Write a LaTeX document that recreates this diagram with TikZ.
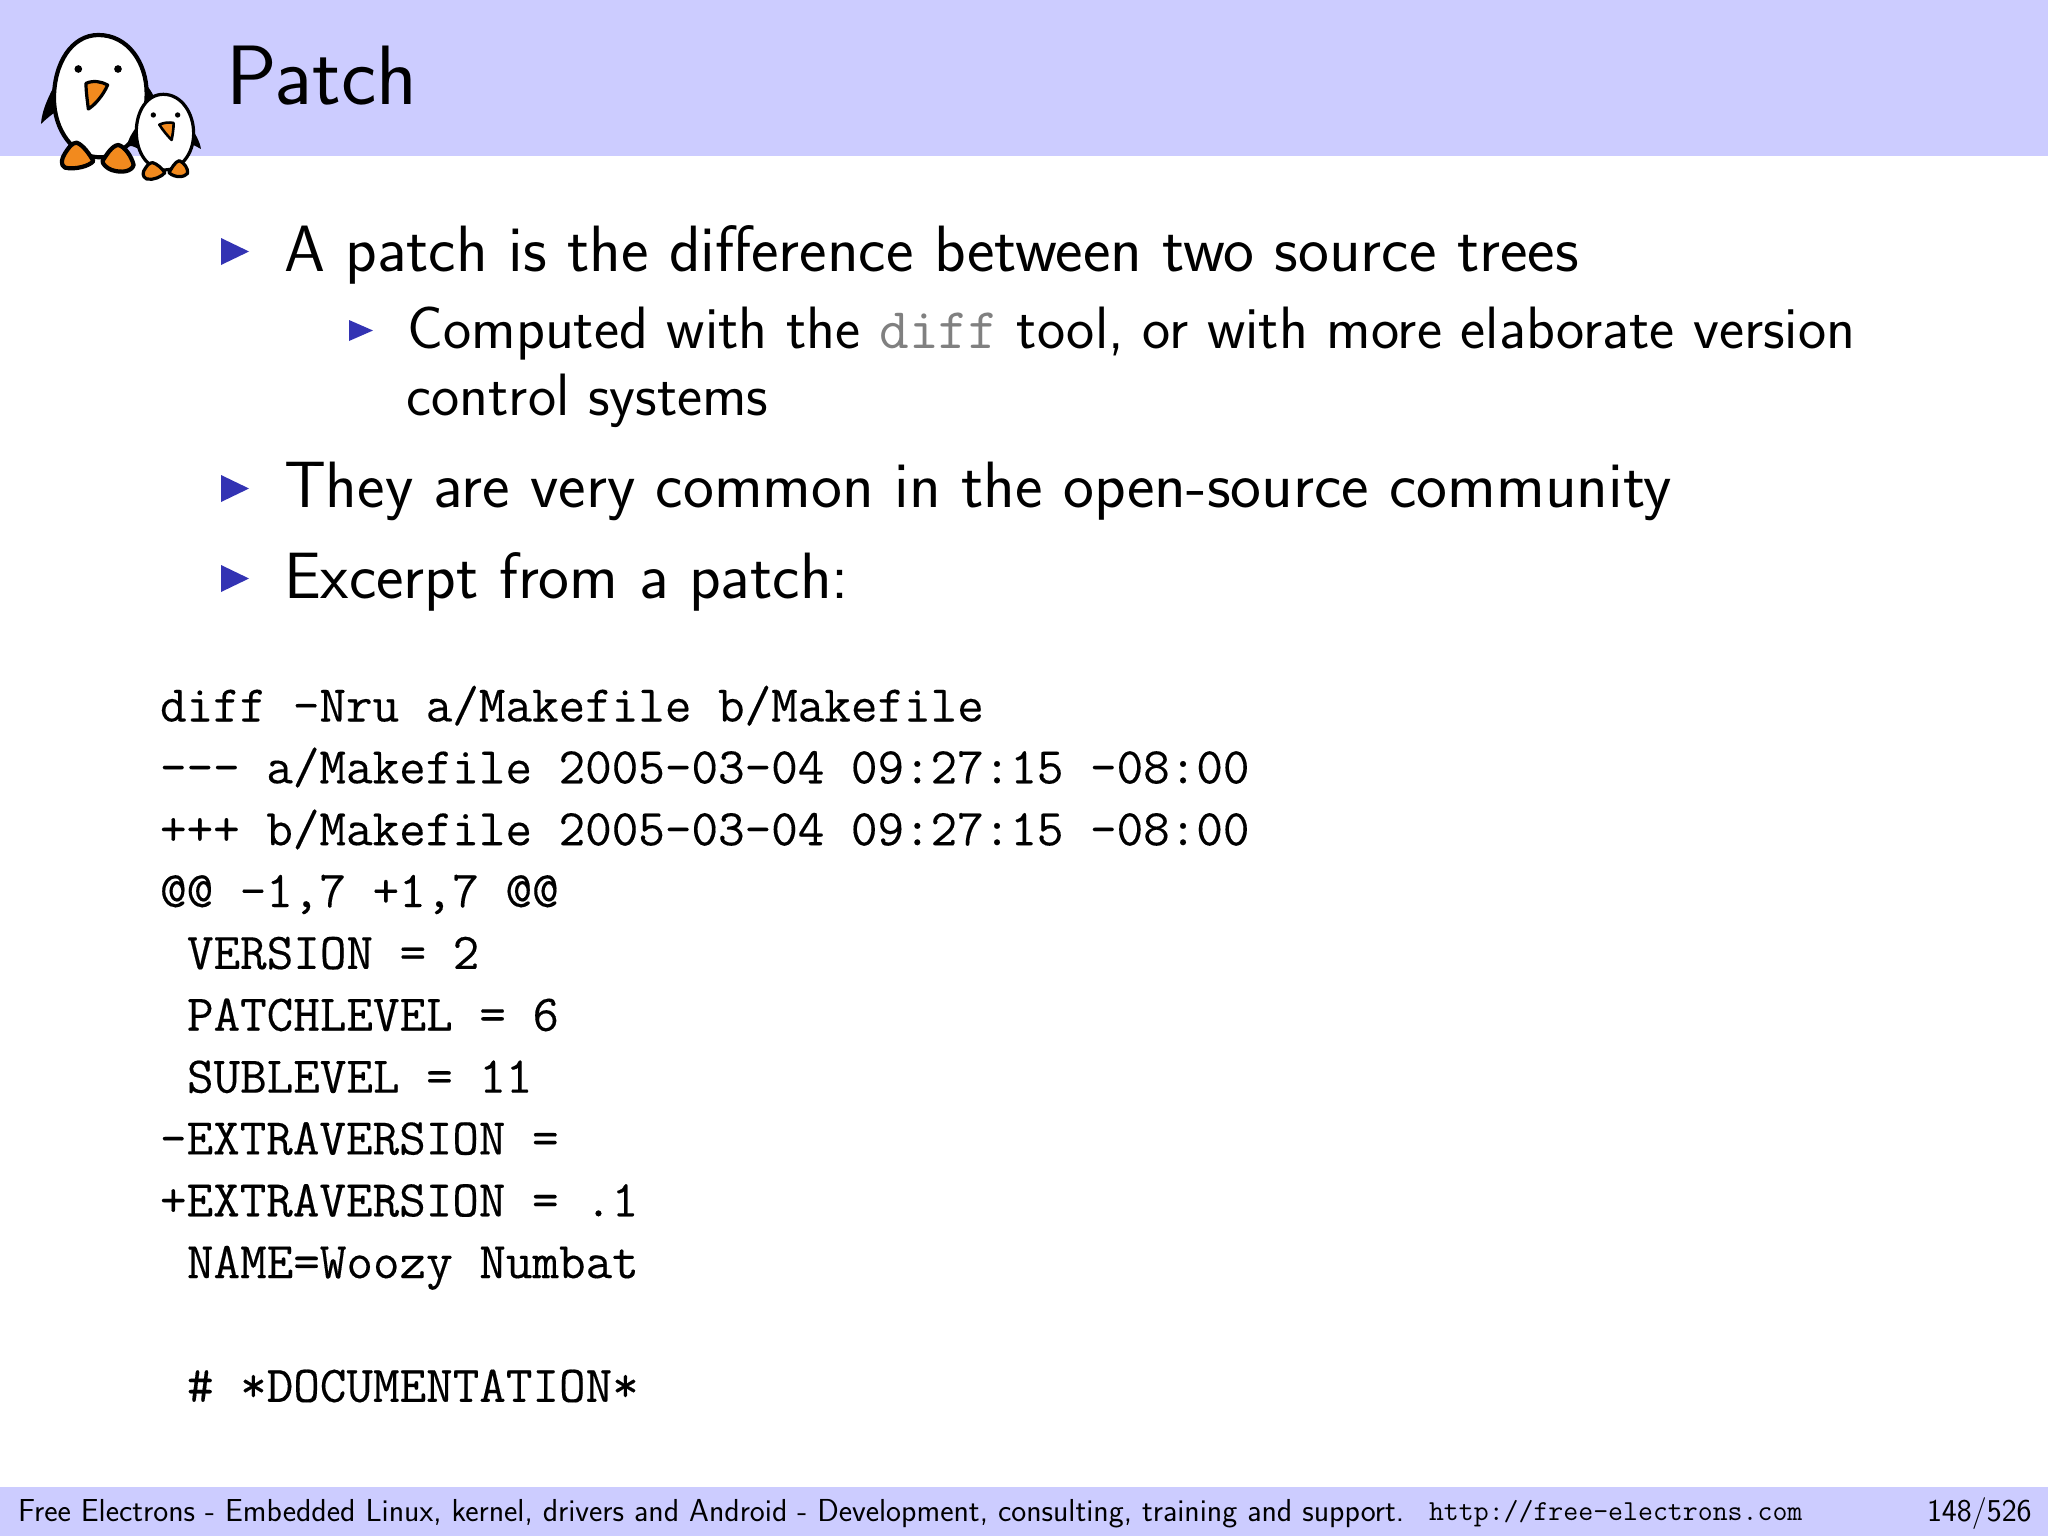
\documentclass[tikz,border=0pt]{standalone}
\usepackage{fontspec}
\newfontfamily\codefont{Latin Modern Mono}[FakeBold=0.25]
\definecolor{band}{HTML}{CCCCFF}
\definecolor{bullet}{HTML}{3333B3}
\definecolor{beak}{HTML}{F28A1E}
\definecolor{difft}{HTML}{808080}
\newcommand{\fsz}[1]{\fontsize{#1}{#1}\selectfont}
\tikzset{
  body/.style={anchor=base west,inner sep=0pt,outer sep=0pt,font=\sffamily\fsz{65.5}},
  sub/.style={anchor=base west,inner sep=0pt,outer sep=0pt,font=\sffamily\fsz{59.8}},
  code/.style={anchor=base west,inner sep=0pt,outer sep=0pt,font=\codefont\fsz{51.6}},
  foot/.style={anchor=base west,inner sep=0pt,outer sep=0pt,font=\sffamily\fsz{31.8}},
  ink/.style={draw=black,line width=4.2pt,line join=round},
  inks/.style={draw=black,line width=3.2pt,line join=round},
}
\begin{document}
\begin{tikzpicture}[x=1pt,y=-1pt]
\useasboundingbox (0,0) rectangle (2048,1536);
\fill[white] (0,0) rectangle (2048,1536);
\fill[band] (0,0) rectangle (2048,156);
\fill[band] (0,1487) rectangle (2048,1536);
% penguins
\begin{scope}[x=0.3333pt,y=-0.3333pt]
  \fill[black] (170,245) .. controls (150,280) and (125,330) .. (123,372) .. controls (140,355) and (160,340) .. (175,330) -- cycle;
  \fill[black] (430,245) .. controls (445,260) and (455,275) .. (462,290) -- (430,320) -- cycle;
  \filldraw[fill=white,ink] (295,105) .. controls (385,105) and (440,190) .. (440,280)
     .. controls (440,400) and (370,472) .. (300,472)
     .. controls (220,472) and (162,390) .. (162,295)
     .. controls (162,190) and (215,105) .. (295,105) -- cycle;
  \fill[black] (235,207) circle (11.5);
  \fill[black] (354,207) circle (11.5);
  \filldraw[fill=beak,inks] (258,250) .. controls (280,240) and (305,245) .. (323,255)
     .. controls (310,285) and (285,315) .. (265,327) .. controls (262,300) and (258,275) .. (258,250) -- cycle;
  \filldraw[fill=beak,ink] (230,428) .. controls (250,435) and (270,465) .. (280,483)
     .. controls (270,498) and (225,510) .. (195,503)
     .. controls (180,495) and (185,475) .. (195,460)
     .. controls (205,445) and (215,428) .. (230,428) -- cycle;
  \filldraw[fill=beak,ink] (355,435) .. controls (375,440) and (395,470) .. (401,495)
     .. controls (395,515) and (365,520) .. (335,510)
     .. controls (320,505) and (305,490) .. (308,482)
     .. controls (320,465) and (335,437) .. (355,435) -- cycle;
  \fill[black] (412,378) .. controls (398,395) and (385,415) .. (381,440) .. controls (392,435) and (402,440) .. (412,445) -- cycle;
  \fill[black] (572,380) .. controls (585,400) and (600,425) .. (603,447) .. controls (595,442) and (585,438) .. (575,432) -- cycle;
  \filldraw[fill=white,inks] (490,283) .. controls (545,283) and (581,340) .. (581,400)
     .. controls (581,465) and (540,510) .. (495,510)
     .. controls (445,510) and (409,460) .. (409,395)
     .. controls (409,335) and (440,283) .. (490,283) -- cycle;
  \fill[black] (460,345) circle (8);
  \fill[black] (533,345) circle (8);
  \filldraw[fill=beak,line width=2.6pt,draw=black,line join=round] (478,374) .. controls (490,368) and (508,366) .. (521,369)
     .. controls (521,385) and (518,405) .. (515,420) .. controls (503,408) and (488,390) .. (478,374) -- cycle;
  \filldraw[fill=beak,inks] (458,488) .. controls (472,492) and (485,505) .. (495,518)
     .. controls (485,530) and (460,542) .. (440,537)
     .. controls (425,530) and (428,515) .. (436,505)
     .. controls (442,495) and (450,488) .. (458,488) -- cycle;
  \filldraw[fill=beak,inks] (538,482) .. controls (552,488) and (565,505) .. (563,520)
     .. controls (555,532) and (525,535) .. (507,518)
     .. controls (515,505) and (525,485) .. (538,482) -- cycle;
\end{scope}
\node[anchor=base west,inner sep=0pt,font=\sffamily\fsz{84.3}] (title) at (226,104.5) {Patch};
% bullets
\fill[bullet] (221,238) -- (249,251.5) -- (221,265) -- cycle;
\fill[bullet] (349,320) -- (373,330.5) -- (349,341) -- cycle;
\fill[bullet] (221,475) -- (249,488.5) -- (221,502) -- cycle;
\fill[bullet] (221,565) -- (249,578.5) -- (221,592) -- cycle;
\node[body] (i1) at (284,271) {A patch is the difference between two source trees};
\node[sub] (s1) at (407.5,348.3) {Computed with the {\ttfamily\fsz{57.6}\color{difft}diff} tool, or with more elaborate version};
\node[sub] (s2) at (406.5,415.3) {control systems};
\node[body] (i2) at (284,507.3) {They are very common in the open-source community};
\node[body] (i3) at (284,598.5) {Excerpt from a patch:};
% code
\node[code] (c1) at (160,721.5) {diff -Nru a/Makefile b/Makefile};
\node[code] (c2) at (160,783.3) {--{}- a/Makefile 2005-03-04 09:27:15 -08:00};
\node[code] (c3) at (160,845.2) {+++ b/Makefile 2005-03-04 09:27:15 -08:00};
\node[code] (c4) at (160,907) {@@ -1,7 +1,7 @@};
\node[code] (c5) at (187,968.9) {VERSION = 2};
\node[code] (c6) at (187,1030.7) {PATCHLEVEL = 6};
\node[code] (c7) at (187,1092.6) {SUBLEVEL = 11};
\node[code] (c8) at (160,1154.4) {-EXTRAVERSION =};
\node[code] (c9) at (160,1216.3) {+EXTRAVERSION = .1};
\node[code] (c10) at (187,1278.1) {NAME=Woozy Numbat};
\node[code] (c11) at (187,1401.8) {\# *DOCUMENTATION*};
% footer
\node[foot] (f1) at (18,1521) {Free Electrons - Embedded Linux, kernel, drivers and Android - Development, consulting, training and support.};
\node[foot,font=\ttfamily\fsz{29}] (f2) at (1429,1520.5) {http://free-electrons.com};
\node[foot] (f3) at (1927,1521) {148/526};
\end{tikzpicture}
\end{document}
